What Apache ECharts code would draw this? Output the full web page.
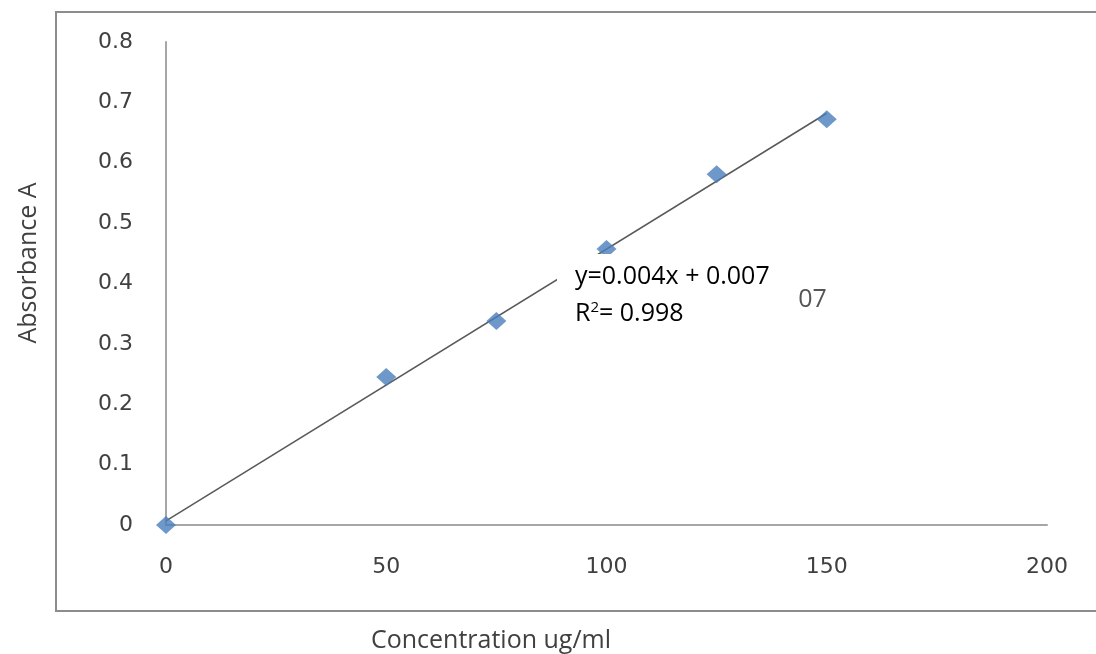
<!doctype html>
<html>
<head>
<meta charset="utf-8">
<script src="https://cdn.jsdelivr.net/npm/echarts@6/dist/echarts.min.js"></script>
<style>
  html, body { margin: 0; padding: 0; background: #fff; }
  #chart { width: 1096px; height: 654px; }
</style>
</head>
<body>
<div id="chart"></div>
<script>
  // measured points (concentration ug/ml, absorbance)
  var concentration = [0, 50, 75, 100, 125, 150];
  var absorbance = [0, 0.245, 0.338, 0.457, 0.581, 0.672];
  // trend line ends as drawn in the picture
  var trendX = [0, 150];
  var trendY = [0.007, 0.682];
  var xTicks = [0, 50, 100, 150, 200];
  var yTicks = [0, 0.1, 0.2, 0.3, 0.4, 0.5, 0.6, 0.7, 0.8];

  var points = concentration.map(function (c, i) { return [c, absorbance[i]]; });
  var trend = trendX.map(function (c, i) { return [c, trendY[i]]; });

  var myChart = echarts.init(document.getElementById('chart'));
  var labelFont = { fontFamily: 'DejaVu Sans', fontSize: 22, color: '#404040' };

  var option = {
    animation: false,
    grid: { left: 166, top: 42, right: 49, bottom: 129 },
    xAxis: {
      type: 'value',
      min: xTicks[0], max: xTicks[xTicks.length - 1], interval: 50,
      axisLine: { lineStyle: { color: '#a6a6a6', width: 2 } },
      axisTick: { show: false },
      splitLine: { show: false },
      axisLabel: Object.assign({ margin: 31 }, labelFont)
    },
    yAxis: {
      type: 'value',
      min: yTicks[0], max: yTicks[yTicks.length - 1], interval: 0.1,
      axisLine: { show: true, lineStyle: { color: '#a6a6a6', width: 2 } },
      axisTick: { show: false },
      splitLine: { show: false },
      axisLabel: Object.assign({ margin: 33, formatter: function (v) { return +v.toFixed(1) + ''; } }, labelFont)
    },
    series: [
      {
        type: 'line',
        data: trend,
        symbol: 'none',
        lineStyle: { color: '#595959', width: 1.5 },
        z: 2
      },
      {
        type: 'scatter',
        data: points,
        symbol: 'diamond',
        symbolSize: [20, 18],
        itemStyle: { color: '#4a7ebb' },
        z: 3
      }
    ],
    graphic: [
      {
        type: 'rect', z: -1, silent: true,
        shape: { x: 56, y: 12, width: 1100, height: 599 },
        style: { fill: 'none', stroke: '#8c8c8c', lineWidth: 2 }
      },
      {
        type: 'text', z: 50, left: 763, top: 287,
        style: { text: '0.007', font: '25px "Open Sans"', fill: '#555' }
      },
      {
        type: 'rect', z: 100, silent: true,
        shape: { x: 557, y: 254, width: 240, height: 78 },
        style: { fill: '#fff' }
      },
      {
        type: 'text', z: 101, left: 575, top: 264,
        style: { text: 'y=0.004x + 0.007', font: '25px "Open Sans"', fill: '#000' }
      },
      {
        type: 'text', z: 101, left: 575, top: 300,
        style: {
          text: '{r|R}{s|2}{r|= 0.998}',
          rich: {
            r: { font: '25px "Open Sans"', fill: '#000' },
            s: { font: '15px "Open Sans"', fill: '#000', verticalAlign: 'top', padding: [0, 0, 12, 0] }
          }
        }
      },
      {
        type: 'text', x: 491, y: 641,
        style: { text: 'Concentration ug/ml', font: '25px "Open Sans"', fill: '#404040', align: 'center', verticalAlign: 'middle' }
      },
      {
        type: 'text', x: 29, y: 263, rotation: Math.PI / 2,
        style: { text: 'Absorbance A', font: '25px "Open Sans"', fill: '#404040', align: 'center', verticalAlign: 'middle' }
      }
    ]
  };

  myChart.setOption(option);
</script>
</body>
</html>
